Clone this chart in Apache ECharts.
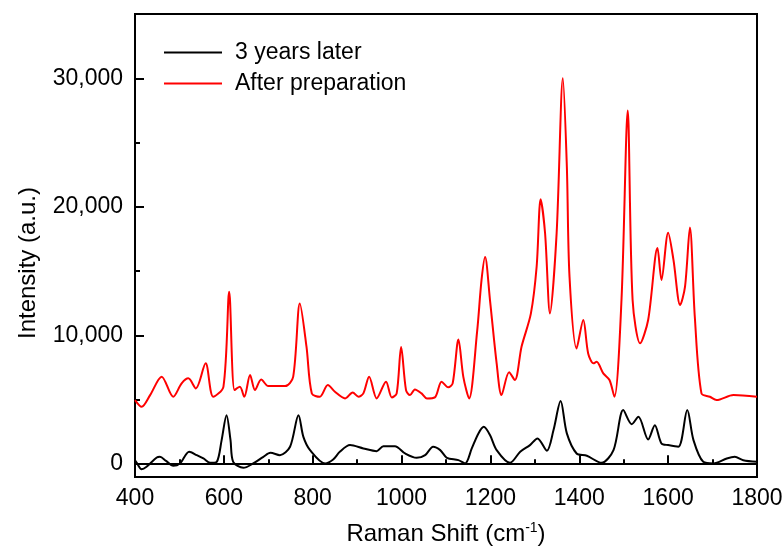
<!DOCTYPE html>
<html>
<head>
<meta charset="utf-8">
<script src="https://cdn.jsdelivr.net/npm/echarts@6/dist/echarts.min.js"></script>
<style>html,body{margin:0;padding:0;background:#fff;}#c{width:784px;height:548px;}</style>
</head>
<body>
<div id="c"></div>
<script>
// Raman shift positions (cm^-1) and intensities (a.u.)
var shift3Years = [400,404,415,426,449,456,470,486,501,522,539,554,569,584,595,606,615,621,644,666,689,705,726,749,768,779,794,828,846,861,884,914,944,959,985,1008,1034,1053,1071,1087,1102,1128,1143,1158,1173,1185,1199,1214,1244,1267,1289,1306,1327,1342,1358,1372,1394,1417,1450,1477,1499,1518,1533,1555,1570,1585,1600,1623,1643,1657,1679,1702,1732,1750,1769,1800];
var intensity3Years = [300,100,-390,-200,520,570,250,-130,50,960,700,440,100,180,1870,3800,1870,180,-290,50,570,880,700,1350,3800,2120,1090,50,360,960,1480,1220,1010,1400,1400,830,490,700,1350,1090,490,310,50,1220,2390,2900,2260,1090,100,960,1480,2000,1040,2650,4900,2390,830,650,100,1090,4200,3110,3680,1920,3030,1610,1480,1350,4200,1870,180,50,440,570,310,180];
var shiftAfterPrep = [400,415,434,460,486,505,520,537,559,576,599,612,624,636,646,659,670,684,700,738,756,771,786,798,816,834,850,873,890,903,914,927,944,965,978,989,999,1010,1019,1030,1045,1057,1075,1090,1105,1115,1128,1139,1152,1170,1180,1188,1199,1214,1225,1242,1255,1270,1291,1304,1313,1323,1334,1349,1363,1372,1378,1394,1409,1420,1432,1439,1454,1468,1479,1495,1509,1520,1537,1555,1576,1585,1600,1612,1627,1638,1649,1660,1675,1694,1709,1747,1800];
var intensityAfterPrep = [4980,4460,5370,6800,5240,6280,6670,5890,7840,5240,6010,13400,5760,6010,5240,6930,5760,6590,6070,6070,6790,12500,9130,5500,5240,6150,5630,5110,5570,5240,5500,6790,5110,6410,5190,5500,9100,5760,5370,5810,5500,5110,5190,6410,5970,6280,9700,6790,5110,10300,14320,16100,12760,7840,5370,7140,6540,9130,11700,15350,20600,17950,11720,17950,30000,23140,14580,9000,11210,8610,7840,7960,7060,6540,5240,12760,27500,12760,9390,11210,16800,14320,18000,15880,12370,13800,18400,11460,5500,5240,4980,5370,5240];
var seriesNames = ['3 years later', 'After preparation'];
var yMajorTicks = [0, 10000, 20000, 30000];
var yMinorTicks = [5000, 15000, 25000];

function zip(xs, ys) { return xs.map(function (x, i) { return [x, ys[i]]; }); }
function fmt(v) { return String(v).replace(/\B(?=(\d{3})+(?!\d))/g, ','); }

var FONT = '"Liberation Sans", Arial, sans-serif';
var chart = echarts.init(document.getElementById('c'), null, { renderer: 'canvas' });
chart.setOption({
  animation: false,
  backgroundColor: '#fff',
  grid: { left: 135, right: 27, top: 14, bottom: 71, show: true, borderColor: '#000', borderWidth: 2, backgroundColor: 'transparent', containLabel: false, outerBoundsMode: 'none' },
  legend: {
    left: 164, top: 37, orient: 'vertical', padding: 0, itemGap: 0,
    icon: 'rect', itemWidth: 58, itemHeight: 2,
    textStyle: { fontFamily: FONT, fontSize: 23, color: '#000', lineHeight: 31, padding: [0, 0, 0, 8] },
    data: seriesNames
  },
  xAxis: {
    type: 'value', min: 400, max: 1800, interval: 200,
    name: 'Raman Shift (cm{sup|-1})', nameLocation: 'middle', nameGap: 44,
    nameTextStyle: { fontFamily: FONT, fontSize: 24, color: '#000', rich: { sup: { fontFamily: FONT, fontSize: 14, verticalAlign: 'top', padding: [0, 0, 12, 0], color: '#000' } } },
    axisLine: { lineStyle: { color: '#000', width: 2 } },
    axisTick: { inside: true, length: 9, lineStyle: { color: '#000', width: 2 } },
    minorTick: { show: true, splitNumber: 2, length: 5, lineStyle: { color: '#000', width: 2 } },
    axisLabel: { fontFamily: FONT, fontSize: 23, color: '#000', margin: 10, formatter: function (v) { return String(v); } },
    splitLine: { show: false }
  },
  yAxis: [{
    type: 'value', min: -1000, max: 35000, position: 'left',
    name: 'Intensity (a.u.)', nameLocation: 'middle', nameGap: 95, nameRotate: 90,
    nameTextStyle: { fontFamily: FONT, fontSize: 24, color: '#000', padding: [0, 35, 0, 0] },
    axisLine: { show: true, lineStyle: { color: '#000', width: 2 } },
    axisTick: { show: true, inside: true, length: 9, customValues: yMajorTicks, lineStyle: { color: '#000', width: 2 } },
    axisLabel: { fontFamily: FONT, fontSize: 23, color: '#000', margin: 12, customValues: yMajorTicks, formatter: function (v) { return fmt(v); } },
    splitLine: { show: false }
  }, {
    type: 'value', min: -1000, max: 35000, position: 'left', offset: 0,
    axisLine: { show: false },
    axisTick: { show: true, inside: true, length: 5, customValues: yMinorTicks, lineStyle: { color: '#000', width: 2 } },
    axisLabel: { show: false },
    splitLine: { show: false }
  }],
  series: [{
    name: seriesNames[0], type: 'line', yAxisIndex: 0, showSymbol: false, smooth: 0.3,
    data: zip(shift3Years, intensity3Years),
    lineStyle: { color: '#000', width: 2 }, itemStyle: { color: '#000' }
  }, {
    name: seriesNames[1], type: 'line', yAxisIndex: 0, showSymbol: false, smooth: 0.3,
    data: zip(shiftAfterPrep, intensityAfterPrep),
    lineStyle: { color: '#ff0000', width: 2 }, itemStyle: { color: '#ff0000' }
  }]
});
</script>
</body>
</html>
